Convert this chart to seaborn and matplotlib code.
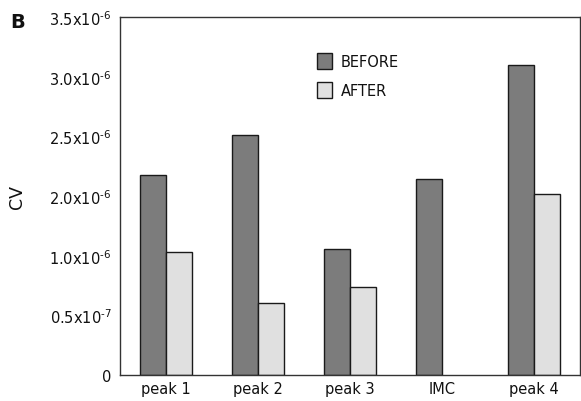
import numpy as np
import pandas as pd
import matplotlib
matplotlib.use("Agg")
import matplotlib.pyplot as plt
import seaborn as sns
from matplotlib.patches import Patch

categories = ["peak 1", "peak 2", "peak 3", "IMC", "peak 4"]
before = [1.68, 2.01, 1.06, 1.64, 2.60]
after = [1.03, 0.60, 0.735, np.nan, 1.52]
ytick_pos = [0, 0.5, 1.0, 1.5, 2.0, 2.5, 3.0]
ytick_labels = ["0", "0.5x10$^{\\mathregular{\u20107}}$", "1.0x10$^{\\mathregular{\u20106}}$",
                "2.0x10$^{\\mathregular{\u20106}}$", "2.5x10$^{\\mathregular{\u20106}}$",
                "3.0x10$^{\\mathregular{\u20106}}$", "3.5x10$^{\\mathregular{\u20106}}$"]

df = pd.DataFrame({
    "cat": categories * 2,
    "val": before + after,
    "grp": ["BEFORE"] * len(categories) + ["AFTER"] * len(categories),
})

sns.set_style("white")
plt.rcParams["font.family"] = ["DejaVu Sans"]
plt.rcParams["text.color"] = "#111111"
plt.rcParams["xtick.labelcolor"] = "#111111"
plt.rcParams["ytick.labelcolor"] = "#111111"
plt.rcParams["axes.labelcolor"] = "#111111"

fig = plt.figure(figsize=(5.81, 4.02), dpi=100)
ax = fig.add_axes([120 / 581, 1 - 376 / 402, 460 / 581, 358 / 402])

colors = {"BEFORE": "#7c7c7c", "AFTER": "#e0e0e0"}
sns.barplot(data=df, x="cat", y="val", hue="grp", hue_order=["BEFORE", "AFTER"],
            palette=colors, width=0.565, gap=0, edgecolor="#1a1a1a", linewidth=1.0,
            saturation=1, ax=ax, legend=False, errorbar=None)

ax.set_ylim(0, 3.0)
ax.set_xlim(-0.5, len(categories) - 0.5)
ax.set_yticks(ytick_pos)
ax.set_yticklabels(ytick_labels, fontsize=10.5)
ax.set_xticks(np.arange(len(categories)))
ax.set_xticklabels(categories, fontsize=10.5)
ax.tick_params(axis="x", length=0, pad=4)
ax.tick_params(axis="y", direction="in", length=5, width=1, color="#333333", pad=6)
ax.set_xticks(np.arange(0.5, len(categories) - 1, 1.0), minor=True)
ax.tick_params(axis="x", which="minor", direction="in", length=5, width=1, color="#333333")
ax.set_xlabel("")
ax.set_ylabel("CV", fontsize=12.5)
ax.yaxis.set_label_coords(-0.205, 0.5)
for s in ax.spines.values():
    s.set_color("#333333")
    s.set_linewidth(1.0)
    s.set_visible(True)

handles = [Patch(facecolor=colors["BEFORE"], edgecolor="#1a1a1a", label="BEFORE"),
           Patch(facecolor=colors["AFTER"], edgecolor="#1a1a1a", label="AFTER")]
ax.legend(handles=handles, loc="upper left", bbox_to_anchor=(0.40, 0.935), frameon=False,
          fontsize=10.5, handlelength=1.0, handleheight=1.3, handletextpad=0.6,
          labelspacing=0.85)

fig.text(10 / 581, 1 - 22 / 402, "B", fontsize=14, fontweight="bold", va="center", ha="left")

fig.savefig("out.png", dpi=100)
